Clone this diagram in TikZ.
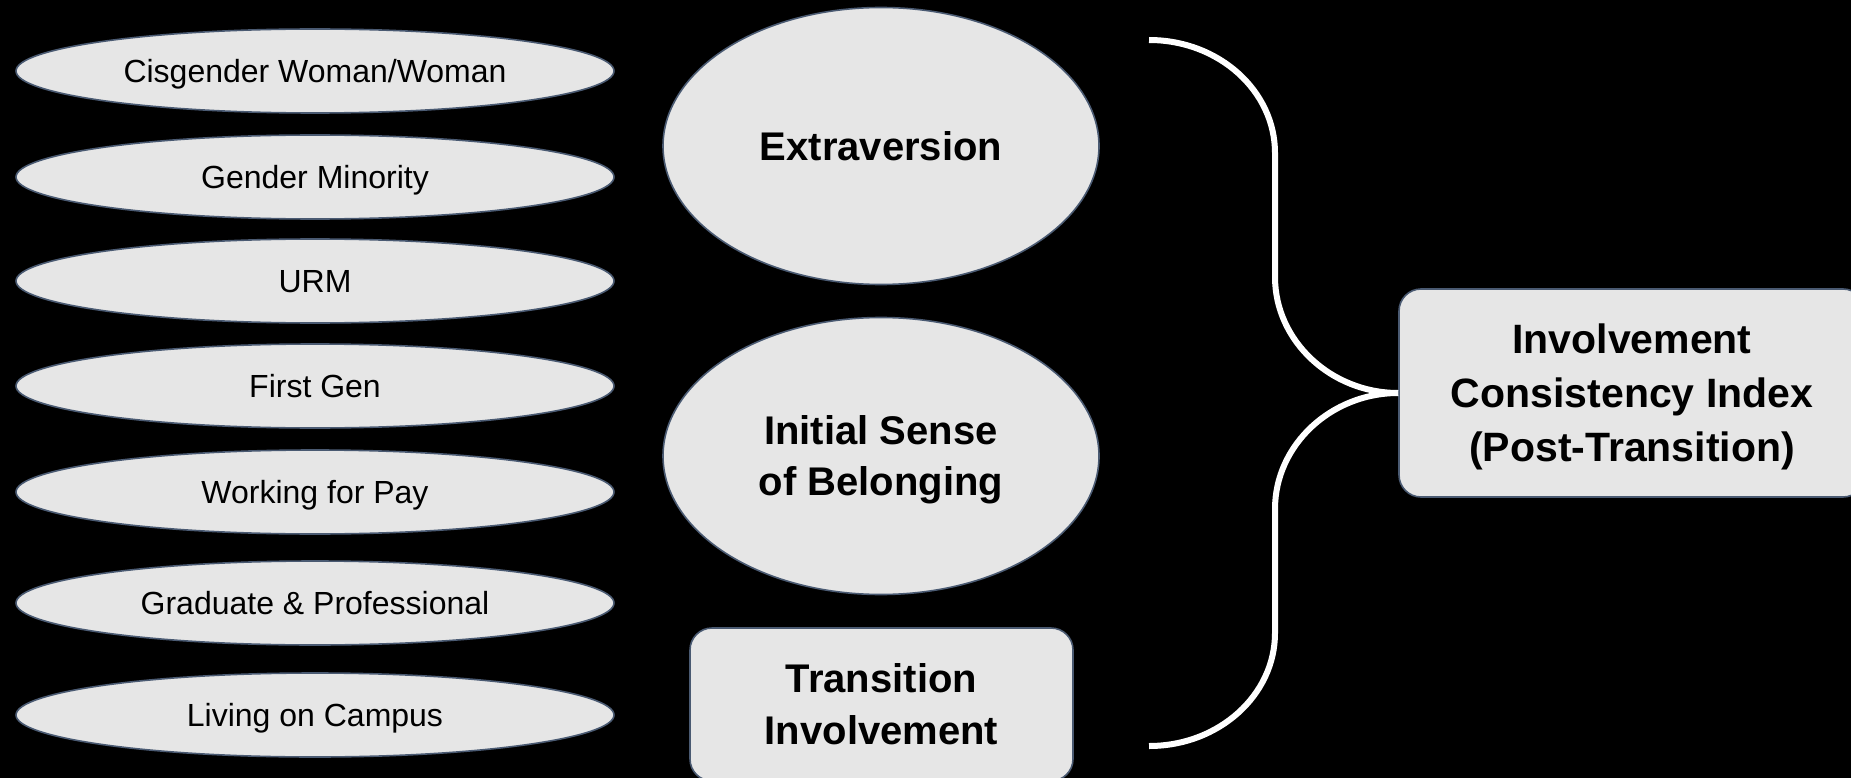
\documentclass[tikz,border=0pt]{standalone}
\usepackage{fontspec}
\setmainfont{Liberation Sans}
\usetikzlibrary{shapes.geometric}

\definecolor{shapefill}{HTML}{E6E6E6}
\definecolor{shapeedge}{HTML}{4A5A72}

\tikzset{
  factor/.style={ellipse, draw=shapeedge, line width=1.6pt, fill=shapefill,
    minimum width=598pt, minimum height=84pt, inner sep=0pt,
    text height=23pt, text depth=0pt,
    font=\fontsize{32}{38}\selectfont, text=black},
  bigoval/.style={ellipse, draw=shapeedge, line width=1.6pt, fill=shapefill,
    minimum width=436pt, minimum height=277pt, inner sep=0pt, align=center,
    font=\fontsize{40}{51}\selectfont\bfseries, text=black},
  roundbox/.style={rectangle, rounded corners=22pt, draw=shapeedge, line width=1.6pt,
    fill=shapefill, inner sep=0pt, align=center,
    font=\fontsize{41}{54}\selectfont\bfseries, text=black},
  brace/.style={draw=white, line width=6pt, line cap=butt, line join=round}
}

\begin{document}
\begin{tikzpicture}[x=1pt, y=-1pt]
  % canvas
  \fill[black] (0,0) rectangle (1851,778);
  \useasboundingbox (0,0) rectangle (1851,778);

  % demographic factors
  \node[factor] (f1) at (315,71)  {Cisgender Woman/Woman};
  \node[factor] (f2) at (315,177) {Gender Minority};
  \node[factor] (f3) at (315,281) {URM};
  \node[factor] (f4) at (315,386) {First Gen};
  \node[factor] (f5) at (315,492) {Working for Pay};
  \node[factor] (f6) at (315,603) {Graduate \& Professional};
  \node[factor] (f7) at (315,715) {Living on Campus};

  % predictors
  \node[bigoval] (ext) at (881,146) {Extraversion};
  \node[bigoval, text depth=0pt] (isb) at (881,456) {Initial Sense\\of Belonging};
  \node[roundbox, font=\fontsize{40}{52}\selectfont\bfseries,
        minimum width=383pt, minimum height=153pt] (ti) at (881.5,704.5)
    {Transition\\Involvement};

  % outcome
  \node[roundbox, text depth=0pt, minimum width=466pt, minimum height=208pt]
    (ici) at (1632,393)
    {Involvement\\Consistency Index\\(Post-Transition)};

  % brace gathering the predictors into the outcome
  \coordinate (btop) at (1149,40);
  \coordinate (bbot) at (1149,746);
  \draw[brace] (btop) .. controls (1219,40) and (1275,91) .. (1275,153)
    -- (1275,277) .. controls (1275,341) and (1331,393) .. (ici.west);
  \draw[brace] (ici.west) .. controls (1331,393) and (1275,445) .. (1275,509)
    -- (1275,633) .. controls (1275,695) and (1219,746) .. (bbot);
\end{tikzpicture}
\end{document}
